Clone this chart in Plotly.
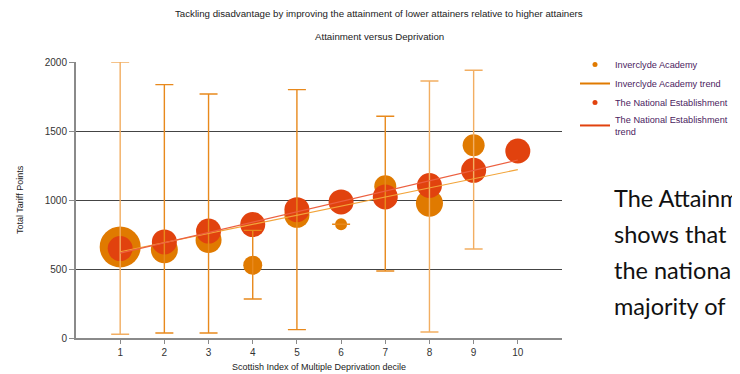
import plotly.graph_objects as go

# ---------------- data ----------------
deciles = [1, 2, 3, 4, 5, 6, 7, 8, 9, 10]
x_ticks = [1, 2, 3, 4, 5, 6, 7, 8, 9, 10]
y_ticks = [0, 500, 1000, 1500, 2000]

ia_x = [1, 2, 3, 4, 5, 6, 7, 8, 9]
ia_y = [660, 640, 710, 527, 889, 824, 1100, 976, 1397]
ia_size = [41, 27, 26, 19, 25, 12, 22, 27, 22]
ia_hi = [2000, 1836, 1768, 780, 1800, 824, 1607, 1862, 1940]
ia_lo = [27, 36, 36, 283, 61, 824, 486, 43, 645]

ne_x = [1, 2, 3, 4, 5, 6, 7, 8, 9, 10]
ne_y = [648, 696, 775, 822, 930, 986, 1022, 1105, 1215, 1355]

ia_trend_x = [1, 10]
ia_trend_y = [625, 1220]
ne_trend_x = [1, 10]
ne_trend_y = [615, 1290]

# visible fragments of the document text beside the chart
side_text = ["The Attainm", "shows that", "the nationa", "majority of"]

# ---------------- style ----------------
ORANGE = "#E07A00"
RED = "#E1420E"
ERR_DARK = "#E8891C"
ERR_LIGHT = "#F2AE62"
light_idx = [0, 7, 8]

OFF = 8  # page body margin offset
W, H = 740 - OFF, 374 - OFF
L, R, T, B = 76 - OFF, 178, 62 - OFF, 36
PW, PH = W - L - R, H - T - B


def px2paper_x(px):
    # px measured on the page (reference coordinates)
    return (px - OFF - L) / PW


def px2paper_y(py):
    return (H - B - (py - OFF)) / PH


fig = go.Figure()

# markers
fig.add_trace(go.Scatter(x=ia_x, y=ia_y, mode="markers", showlegend=False,
                         marker=dict(size=ia_size, color=ORANGE, opacity=1, line=dict(width=0)),
                         hoverinfo="skip"))
fig.add_trace(go.Scatter(x=ne_x, y=ne_y, mode="markers", showlegend=False,
                         marker=dict(size=25, color=RED, opacity=1, line=dict(width=0)),
                         hoverinfo="skip"))

# error bars (drawn above markers)
for idxs, col in [([i for i in range(len(ia_x)) if i not in light_idx], ERR_DARK),
                  (light_idx, ERR_LIGHT)]:
    xs = [ia_x[i] for i in idxs]
    ys = [ia_y[i] for i in idxs]
    up = [ia_hi[i] - ia_y[i] for i in idxs]
    dn = [ia_y[i] - ia_lo[i] for i in idxs]
    fig.add_trace(go.Scatter(x=xs, y=ys, mode="markers", showlegend=False,
                             marker=dict(size=1, color="rgba(0,0,0,0)"),
                             error_y=dict(type="data", symmetric=False, array=up,
                                          arrayminus=dn, color=col, thickness=1.4, width=9),
                             hoverinfo="skip", cliponaxis=False))

# trend lines
fig.add_trace(go.Scatter(x=ia_trend_x, y=ia_trend_y, mode="lines", showlegend=False,
                         line=dict(color="#F2A43A", width=1.2), hoverinfo="skip"))
fig.add_trace(go.Scatter(x=ne_trend_x, y=ne_trend_y, mode="lines", showlegend=False,
                         line=dict(color="#EC6040", width=1.2), hoverinfo="skip"))

# legend entries
fig.add_trace(go.Scatter(x=[None], y=[None], mode="markers", name="Inverclyde Academy",
                         marker=dict(size=5, color=ORANGE)))
fig.add_trace(go.Scatter(x=[None], y=[None], mode="lines", name="Inverclyde Academy trend",
                         line=dict(color=ORANGE, width=2)))
fig.add_trace(go.Scatter(x=[None], y=[None], mode="markers", name="The National Establishment",
                         marker=dict(size=5, color=RED)))
fig.add_trace(go.Scatter(x=[None], y=[None], mode="lines",
                         name="The National Establishment<br>trend",
                         line=dict(color=RED, width=2)))

AX_FONT = dict(family="Liberation Sans, Arial, sans-serif", size=10, color="#333333")

fig.update_xaxes(range=[0, 11], tickvals=x_ticks, ticktext=[str(v) for v in x_ticks],
                 showgrid=False, zeroline=False, showline=True, linecolor="#8a8a8a",
                 linewidth=2, ticks="outside", ticklen=4, tickcolor="#8a8a8a",
                 tickfont=AX_FONT, fixedrange=True)
fig.update_yaxes(range=[0, 2000], tickvals=y_ticks, ticktext=[str(v) for v in y_ticks],
                 showgrid=True, gridcolor="#444444", gridwidth=1, zeroline=False,
                 showline=True, linecolor="#8a8a8a", linewidth=2, ticks="outside",
                 ticklen=5, tickcolor="#8a8a8a", tickfont=AX_FONT, fixedrange=True)

annots = [
    dict(text="Tackling disadvantage by improving the attainment of lower attainers relative to higher attainers",
         x=px2paper_x(379), y=px2paper_y(14), font=dict(size=9.7)),
    dict(text="Attainment versus Deprivation", x=px2paper_x(379), y=px2paper_y(36),
         font=dict(size=9.7)),
    dict(text="Total Tariff Points", x=px2paper_x(20), y=px2paper_y(200), textangle=-90,
         font=dict(size=9)),
    dict(text="Scottish Index of Multiple Deprivation decile", x=px2paper_x(319),
         y=px2paper_y(367), font=dict(size=9)),
]
for a in annots:
    a.update(xref="paper", yref="paper", showarrow=False, xanchor="center", yanchor="middle")
    a["font"].update(family="Liberation Sans, Arial, sans-serif", color="#222222")
    fig.add_annotation(**a)

for i, line in enumerate(side_text):
    fig.add_annotation(text=line, xref="paper", yref="paper", x=px2paper_x(612),
                       y=px2paper_y(198 + 36 * i), xanchor="left", yanchor="middle",
                       showarrow=False,
                       font=dict(family="Lato, Carlito, sans-serif", size=23.5, color="#111111"))

fig.update_layout(
    width=W, height=H, margin=dict(l=L, r=R, t=T, b=B, autoexpand=False),
    paper_bgcolor="white", plot_bgcolor="white",
    showlegend=True,
    legend=dict(x=px2paper_x(575), y=px2paper_y(50), xanchor="left", yanchor="top",
                font=dict(family="Liberation Sans, Arial, sans-serif", size=9.2, color="#4B2360"),
                bgcolor="rgba(0,0,0,0)", tracegroupgap=0, itemwidth=30),
    font=dict(family="Liberation Sans, Arial, sans-serif"),
)

fig.write_html("out.html")
